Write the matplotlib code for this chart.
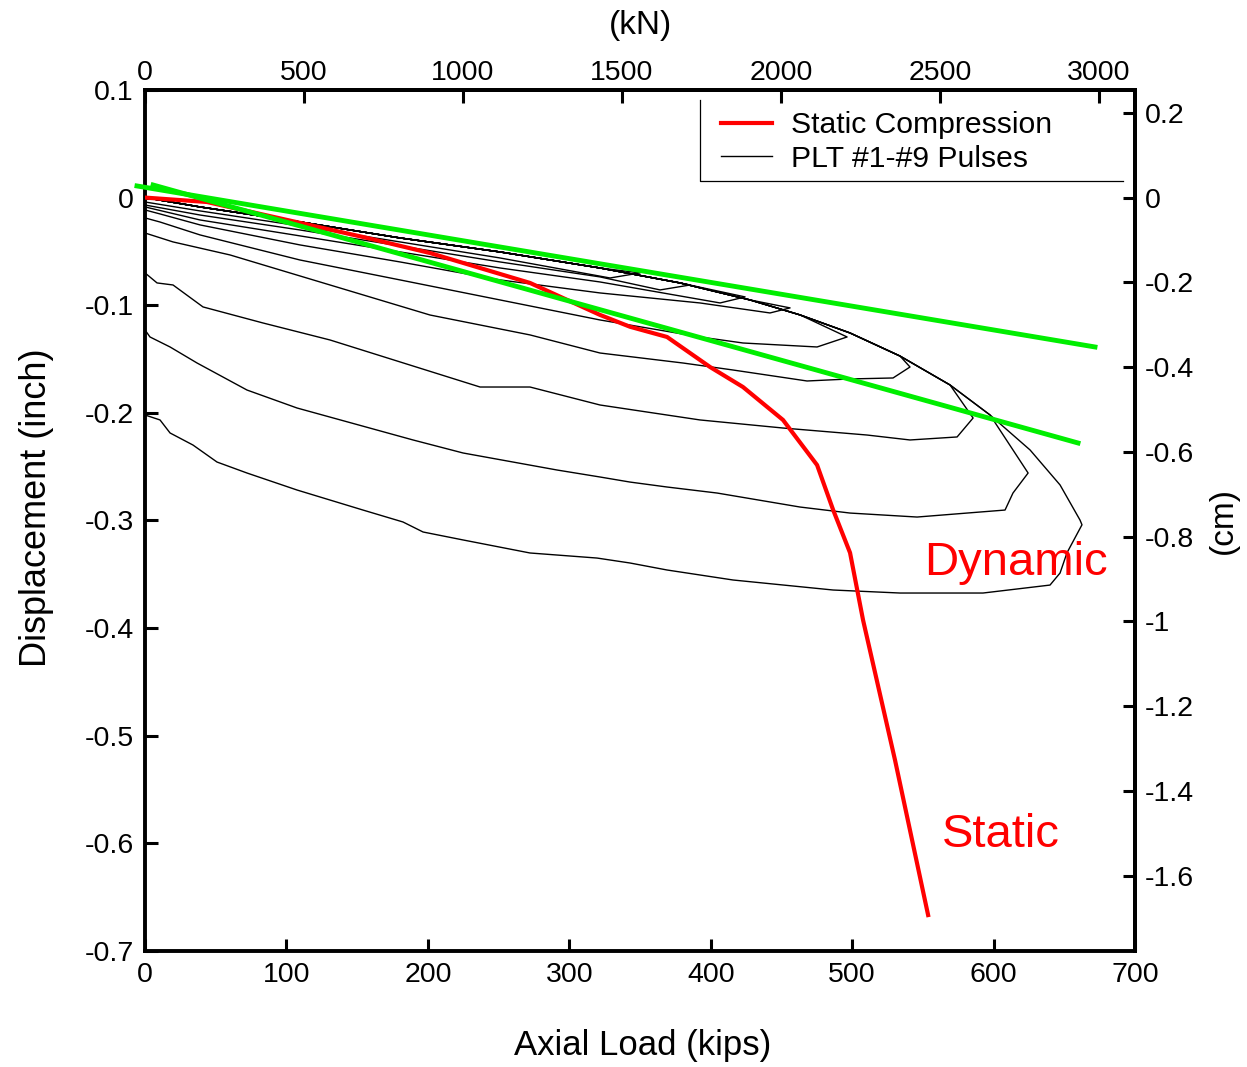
import numpy as np
import matplotlib
matplotlib.use("Agg")
from matplotlib import pyplot as plt

plt.rcParams['font.family'] = ['Liberation Sans', 'DejaVu Sans']
plt.rcParams['axes.unicode_minus'] = False

# Static compression test (kips, inch)
static_load = [0, 43.8, 154.1, 201.5, 272.2, 321.7, 342.9, 369.1, 399.5, 422.8,
               451.1, 475.2, 486.5, 498.5, 507.7, 530.3, 553.7]
static_disp = [0.0, -0.0041, -0.0366, -0.0515, -0.0793, -0.109, -0.120, -0.1295, -0.1574, -0.176,
               -0.2066, -0.2485, -0.290, -0.330, -0.3925, -0.5226, -0.6666]

# common loading branch of the pulses
env_load = [0, 38.9, 109.6, 180.3, 251.0, 321.7, 378.3, 427.8, 463.1, 498.5,
            533.8, 569.2, 597.5, 625.8, 647.0, 661.1]
env_disp = [0.0, -0.0087, -0.0226, -0.0375, -0.0505, -0.0654, -0.0793, -0.0951, -0.109, -0.1258,
            -0.1472, -0.1741, -0.2020, -0.2345, -0.2670, -0.2996]

# unloading branches, from peak back to zero load
p1_load = [662.5, 651.9, 647.0, 639.9, 592.5, 533.8, 486.5, 415.8, 369.1, 342.9, 319.6, 272.2,
           224.9, 196.6, 182.4, 154.1, 107.5, 72.1, 50.9, 33.9, 17.7, 10.6, 0]
p1_disp = [-0.304, -0.330, -0.3488, -0.360, -0.3674, -0.3674, -0.3646, -0.3553, -0.346, -0.3395, -0.3349, -0.3302,
           -0.3181, -0.3107, -0.3014, -0.2903, -0.2717, -0.2559, -0.2457, -0.2299, -0.2187, -0.2066, -0.202]
p2_load = [624.4, 613.7, 608.1, 581.2, 545.9, 498.5, 463.1, 404.5, 369.1, 342.9, 321.7, 291.3,
           224.9, 189.5, 107.5, 72.1, 36.8, 17.7, 3.5, 0]
p2_disp = [-0.2559, -0.2745, -0.2903, -0.2931, -0.2968, -0.2931, -0.2875, -0.2745, -0.2689, -0.2643, -0.2596, -0.2531,
           -0.2373, -0.2252, -0.1955, -0.1788, -0.1537, -0.1388, -0.1295, -0.123]
p3_load = [585.5, 574.2, 540.9, 510.5, 451.1, 392.4, 321.7, 272.2, 236.9, 130.8, 83.4, 41.0, 19.8, 8.5, 0]
p3_disp = [-0.2048, -0.2224, -0.2252, -0.2206, -0.2141, -0.2066, -0.1927, -0.1760, -0.1760, -0.1323,
           -0.1165, -0.1016, -0.0812, -0.0793, -0.0700]
p4_load = [540.9, 528.9, 498.5, 468.1, 415.8, 380.4, 321.7, 272.2, 201.5, 130.8, 60.1, 19.8, 0]
p4_disp = [-0.1574, -0.1676, -0.1685, -0.1704, -0.1602, -0.1537, -0.1444, -0.1276, -0.1091, -0.0812,
           -0.0533, -0.0412, -0.0329]
p5_load = [496.4, 475.2, 422.8, 392.4, 321.7, 251.0, 180.3, 109.6, 38.9, 10.6, 0]
p5_disp = [-0.1295, -0.1388, -0.1351, -0.1295, -0.1137, -0.0951, -0.0765, -0.058, -0.0347, -0.0227, -0.0189]
p6_load = [456.1, 441.9, 392.4, 321.7, 251.0, 180.3, 109.6, 38.9, 10.6, 0]
p6_disp = [-0.1025, -0.1072, -0.0979, -0.0886, -0.0765, -0.0598, -0.044, -0.0254, -0.0152, -0.0115]
p7_load = [424.3, 406.6, 321.7, 251.0, 180.3, 109.6, 38.9, 0]
p7_disp = [-0.0923, -0.0979, -0.0784, -0.0654, -0.0505, -0.0356, -0.0208, -0.0087]
p8_load = [385.4, 364.2, 321.7, 251.0, 180.3, 109.6, 38.9, 0]
p8_disp = [-0.0812, -0.0858, -0.0737, -0.0598, -0.0449, -0.0301, -0.0162, -0.0069]
p9_load = [350.0, 328.8, 251.0, 180.3, 109.6, 38.9, 0]
p9_disp = [-0.070, -0.0747, -0.0561, -0.0412, -0.0264, -0.0124, -0.0041]

pulses = [(p1_load, p1_disp), (p2_load, p2_disp), (p3_load, p3_disp), (p4_load, p4_disp),
          (p5_load, p5_disp), (p6_load, p6_disp), (p7_load, p7_disp), (p8_load, p8_disp),
          (p9_load, p9_disp)]

# green stiffness lines
green_upper_load = [-5.7, 671.7]
green_upper_disp = [0.0108, -0.1388]
green_lower_load = [5.7, 659.7]
green_lower_disp = [0.0117, -0.228]


def fmt(v, p):
    return '%g' % (round(v, 2) + 0.0)


fig = plt.figure(figsize=(12.47, 10.67), dpi=100)
ax = fig.add_axes([0.1163, 0.1087, 0.9102 - 0.1163, 0.9157 - 0.1087])

env_load = np.array(env_load)
env_disp = np.array(env_disp)
pulse_lines = []
for pl, pd in pulses:
    keep = env_load < pl[0]
    x = np.concatenate([env_load[keep], pl])
    y = np.concatenate([env_disp[keep], pd])
    pulse_lines += ax.plot(x, y, color='black', lw=1.0)

static_line, = ax.plot(static_load, static_disp, color='#ff0000', lw=3, zorder=4)
ax.plot(green_upper_load, green_upper_disp, color='#00ee00', lw=3.5, clip_on=False, zorder=5)
ax.plot(green_lower_load, green_lower_disp, color='#00ee00', lw=3.5, clip_on=False, zorder=5)

ax.text(615.9, -0.3395, 'Dynamic', color='#ff0000', fontsize=34, ha='center', va='center')
ax.text(605.3, -0.592, 'Static', color='#ff0000', fontsize=34, ha='center', va='center')

ax.set_xlim(0, 700)
ax.set_ylim(-0.7, 0.1)
ax.set_xticks(np.arange(0, 701, 100))
ax.set_yticks(np.arange(-0.7, 0.11, 0.1))
ax.yaxis.set_major_formatter(plt.FuncFormatter(fmt))
ax.tick_params(direction='in', length=9, width=2.2, labelsize=20.5, pad=8)
for s in ax.spines.values():
    s.set_linewidth(2.8)

top = ax.secondary_xaxis('top', functions=(lambda k: k * 4.448, lambda n: n / 4.448))
top.set_xticks(np.arange(0, 3001, 500))
top.tick_params(direction='in', length=9, width=2.2, labelsize=20.5, pad=2.5)
top.spines['top'].set_linewidth(2.8)
top.set_xlabel('(kN)', fontsize=24, labelpad=19)

right = ax.secondary_yaxis('right', functions=(lambda i: i * 2.54, lambda c: c / 2.54))
right.set_yticks(np.arange(-1.6, 0.21, 0.2))
right.yaxis.set_major_formatter(plt.FuncFormatter(fmt))
right.tick_params(direction='in', length=9, width=2.2, labelsize=20.5, pad=7)
right.spines['right'].set_linewidth(2.8)
right.set_ylabel('(cm)', fontsize=24, rotation=90, labelpad=10)

ax.set_xlabel('Axial Load (kips)', fontsize=25)
ax.xaxis.set_label_coords(0.503, -0.091)
ax.set_ylabel('Displacement (inch)', fontsize=26)
ax.yaxis.set_label_coords(-0.092, 0.5145)

ax.legend([static_line, pulse_lines[0]], ['Static Compression', 'PLT #1-#9 Pulses'],
          loc='upper left', bbox_to_anchor=(0.582, 0.975), frameon=False, fontsize=21.7,
          handlelength=1.7, handletextpad=0.6, labelspacing=0.18,
          borderpad=0.0, borderaxespad=0.0)
# legend border: left and bottom edges only
ax.plot([0.5606, 0.5606, 0.9879], [0.9884, 0.8943, 0.8943], transform=ax.transAxes,
        color='black', lw=0.9, clip_on=False)

fig.savefig('out.png', dpi=100)
